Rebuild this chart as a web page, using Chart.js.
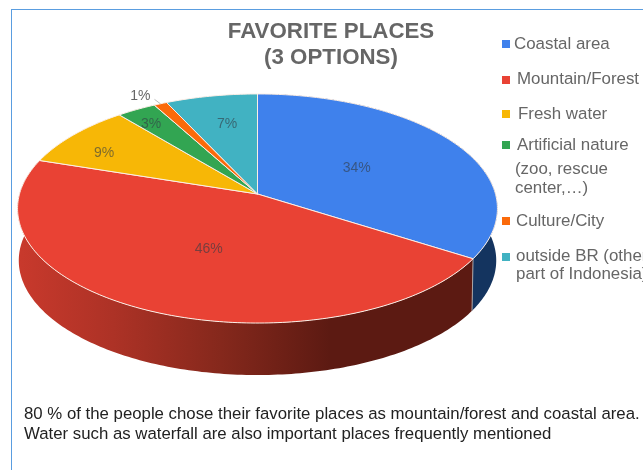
<!DOCTYPE html>
<html>
<head>
<meta charset="utf-8">
<title>Favorite places</title>
<script src="https://cdn.jsdelivr.net/npm/chart.js@4"></script>
<style>
  html, body { margin: 0; padding: 0; background: #fff; }
  #wrap { position: relative; width: 643px; height: 470px; overflow: hidden; font-family: "Liberation Sans", Arial, sans-serif; }
  #frame { position: absolute; left: 11px; top: 9px; width: 640px; height: 470px; border-left: 1px solid #5a9de0; border-top: 1px solid #5a9de0; }
  canvas { position: absolute; left: 0; top: 0; }
  #title { position: absolute; left: 201px; top: 18px; width: 260px; text-align: center; color: #666; font-weight: bold; font-size: 22.3px; line-height: 26px; }
  .key { position: absolute; width: 8px; height: 8px; }
  .item { position: absolute; color: #666; font-size: 16.9px; line-height: 18px; white-space: nowrap; }
  #note { position: absolute; left: 24px; top: 404px; color: #222; font-size: 16.8px; line-height: 20px; white-space: nowrap; }
</style>
</head>
<body>
<div id="wrap">
  <div id="frame"></div>
  <canvas id="chart1" width="643" height="470"></canvas>
  <div id="title">FAVORITE PLACES<br>(3 OPTIONS)</div>
  <div id="legend"></div>
  <div class="item" style="left:515px;top:159px;line-height:19px">(zoo, rescue<br>center,…)</div>
  <div id="note">80 % of the people chose their favorite places as mountain/forest and coastal area.<br>Water such as waterfall are also important places frequently mentioned</div>
</div>
<script>
const categories = ['Coastal area', 'Mountain/Forest', 'Fresh water', 'Artificial nature', 'Culture/City', 'outside BR (other<br>part of Indonesia)'];
const shares = [34, 46, 9, 3, 1, 7];
const sliceColors = ['#3f81ec', '#e94234', '#f7b706', '#32a552', '#fb6a0a', '#41b2c2'];
const wallColors = ['#14345f', '#5c1a12'];

// legend rows are hand placed, the text does not start at one x
const keyY = [40, 76, 110, 141, 217, 253];
const textX = [514, 517, 518, 517, 516, 516];
const textY = [35, 70, 105, 136, 212, 247];

const legend = document.getElementById('legend');
categories.forEach(function (name, i) {
  const key = document.createElement('div');
  key.className = 'key';
  key.style.cssText = 'left:502px;top:' + keyY[i] + 'px;background:' + sliceColors[i];
  legend.appendChild(key);
  const item = document.createElement('div');
  item.className = 'item';
  item.style.cssText = 'left:' + textX[i] + 'px;top:' + textY[i] + 'px';
  item.innerHTML = name;
  legend.appendChild(item);
});

// perspective of the tilted disc: the centre sits above the middle of the ellipse
const apexX = 257.5, apexY = 194;
const spreadX = 238, spreadY = 112.7, tilt = -0.1266;
const depth = 52, floorShrink = 0.995;

function project(angle, r) {
  const u = Math.cos(angle) * r, v = Math.sin(angle) * r;
  const w = 1 + tilt * v;
  return { x: apexX + spreadX * u / w, y: apexY + spreadY * v / w };
}

function rimPoints(start, end) {
  const pts = [];
  const steps = Math.max(4, Math.ceil((end - start) * 60));
  for (let s = 0; s <= steps; s++) {
    pts.push(project(start + (end - start) * s / steps, 1));
  }
  return pts;
}

function floorPoint(p) {
  return { x: apexX + (p.x - apexX) * floorShrink, y: p.y + depth };
}

const tiltedPie = {
  id: 'tiltedPie',
  beforeDatasetsDraw(chart) {
    const ctx = chart.ctx;
    const arcs = chart.getDatasetMeta(0).data;

    // red wall fades from lit on the left to dark at the front
    const redWall = ctx.createLinearGradient(20, 0, 330, 0);
    redWall.addColorStop(0, '#c8392c');
    redWall.addColorStop(0.3, '#ad3226');
    redWall.addColorStop(0.65, '#85281c');
    redWall.addColorStop(1, wallColors[1]);

    // outer walls of the two front slices
    [0, 1].forEach(function (i) {
      const pts = rimPoints(arcs[i].startAngle, arcs[i].endAngle);
      ctx.beginPath();
      pts.forEach(function (p, n) { n ? ctx.lineTo(p.x, p.y) : ctx.moveTo(p.x, p.y); });
      pts.slice().reverse().forEach(function (p) {
        const f = floorPoint(p);
        ctx.lineTo(f.x, f.y);
      });
      ctx.closePath();
      ctx.fillStyle = i === 1 ? redWall : wallColors[0];
      ctx.fill();
    });

    // seam where blue and red walls meet
    const seam = project(arcs[0].endAngle, 1);
    const seamEnd = floorPoint(seam);
    ctx.beginPath();
    ctx.moveTo(seam.x, seam.y);
    ctx.lineTo(seamEnd.x, seamEnd.y);
    ctx.strokeStyle = '#a8a4a6';
    ctx.lineWidth = 1;
    ctx.stroke();

    // top surface
    arcs.forEach(function (arc) {
      const pts = rimPoints(arc.startAngle, arc.endAngle);
      ctx.beginPath();
      ctx.moveTo(apexX, apexY);
      pts.forEach(function (p) { ctx.lineTo(p.x, p.y); });
      ctx.closePath();
      ctx.fillStyle = arc.options.backgroundColor;
      ctx.fill();
      ctx.strokeStyle = arc.options.borderColor;
      ctx.lineWidth = arc.options.borderWidth;
      ctx.stroke();
    });

    // percent labels: how far out each one sits and how far it turns off the slice middle (degrees)
    const labelReach = [0.49, 0.5, 0.776, 0.83, 1.08, 0.69];
    const labelTurn = [0, -2.5, -4.8, -1.6, 0, 1];
    ctx.font = '14px "Liberation Sans", Arial, sans-serif';
    ctx.textBaseline = 'middle';
    arcs.forEach(function (arc, i) {
      const mid = (arc.startAngle + arc.endAngle) / 2;
      const p = project(mid + labelTurn[i] * Math.PI / 180, labelReach[i]);
      const text = shares[i] + '%';
      if (labelReach[i] > 1) {
        // too thin for a label inside, so it gets a leader line
        const edge = project(mid, 1);
        ctx.beginPath();
        ctx.moveTo(edge.x, edge.y);
        ctx.lineTo(p.x + 1, p.y + 2);
        ctx.strokeStyle = '#bbb';
        ctx.lineWidth = 1;
        ctx.stroke();
        ctx.textAlign = 'right';
        ctx.fillStyle = '#666';
        ctx.fillText(text, p.x - 3, p.y - 1);
      } else {
        ctx.textAlign = 'center';
        ctx.fillStyle = 'rgba(50,60,70,0.62)';
        ctx.fillText(text, p.x, p.y);
      }
    });
    return false;
  }
};

new Chart(document.getElementById('chart1'), {
  type: 'pie',
  data: {
    labels: categories,
    datasets: [{
      data: shares,
      backgroundColor: sliceColors,
      borderColor: '#fbeee6',
      borderWidth: 1
    }]
  },
  options: {
    responsive: false,
    animation: false,
    plugins: {
      legend: { display: false },
      tooltip: { enabled: false }
    }
  },
  plugins: [tiltedPie]
});
</script>
</body>
</html>
